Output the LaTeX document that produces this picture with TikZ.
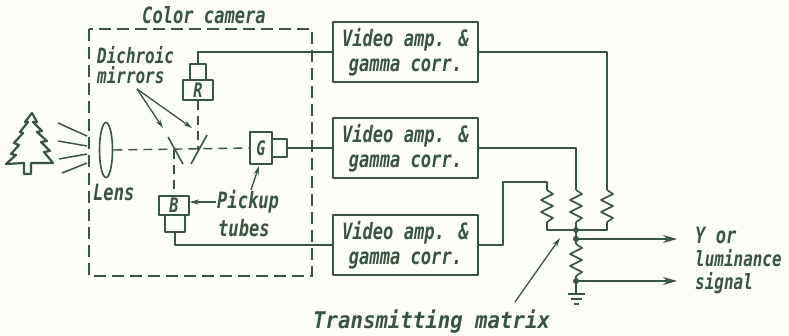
\documentclass[tikz,border=0pt]{standalone}
\usepackage{fontspec}
\newfontfamily\lblfont{DejaVu Sans Mono}[FakeStretch=0.76]
\newfontfamily\lblwide{DejaVu Sans Mono}[FakeStretch=0.9]
\usetikzlibrary{arrows.meta,shapes.geometric}
\definecolor{ink}{RGB}{58,84,66}
\definecolor{paper}{RGB}{252,253,248}
\begin{document}
\begin{tikzpicture}[x=1pt,y=-1pt,
  wire/.style={draw=ink, line width=1.6pt, line join=round},
  camdash/.style={draw=ink, line width=1.4pt, dash pattern=on 12pt off 6pt},
  axisdash/.style={draw=ink, line width=1.4pt, dash pattern=on 9pt off 6pt},
  lbl/.style={text=ink, inner sep=0pt, font=\lblfont\bfseries\itshape\fontsize{22.5}{25}\selectfont},
  ampbox/.style={wire, minimum width=145pt, minimum height=60pt, align=center, inner sep=0pt,
    text=ink, font=\lblfont\bfseries\itshape\fontsize{22.5}{25}\selectfont},
  tube/.style={wire, inner sep=0pt, text=ink, font=\lblfont\bfseries\itshape\fontsize{20}{20}\selectfont},
  ptr/.style={draw=ink, line width=1.3pt, -{Stealth[length=9pt,width=5pt]}},
  outarrow/.style={wire, -{Stealth[length=14pt,width=8pt]}},
  jdot/.style={circle, fill=ink, inner sep=0pt, minimum size=6pt},
  resistor/.pic={\draw[wire] (0,0) -- (6,4) -- (-6,10) -- (6,16) -- (-6,22) -- (6,28) -- (0,32);},
]
% sheet
\fill[paper] (0,0) rectangle (789,335);
\useasboundingbox (0,0) rectangle (789,335);

% camera housing
\draw[camdash] (89,29) rectangle (312,276);
\node[lbl] (camlbl) at (204,15) {Color camera};

% scene: tree and light rays
\draw[wire, line width=2.2pt] (32,113) -- (37,122) -- (33,122) -- (42,131) -- (37,132) -- (47,141)
  -- (41,142) -- (50,151) -- (44,152) -- (53,163) -- (31,163) -- (31,174) -- (24,174) -- (24,163)
  -- (6,164) -- (16,155) -- (11,154) -- (19,145) -- (14,143) -- (23,133) -- (20,132) -- (28,122)
  -- (25,122) -- cycle;
\coordinate (ray1a) at (58,123); \coordinate (ray1b) at (87,136);
\coordinate (ray2a) at (58,141); \coordinate (ray2b) at (87,146);
\coordinate (ray3a) at (59,159); \coordinate (ray3b) at (87,154);
\coordinate (ray4a) at (62,173); \coordinate (ray4b) at (87,163);
\draw[wire, line width=1.5pt] (ray1a) -- (ray1b) (ray2a) -- (ray2b) (ray3a) -- (ray3b) (ray4a) -- (ray4b);

% lens
\node[draw=ink, line width=1.6pt, ellipse, minimum width=13pt, minimum height=55pt, inner sep=0pt] (lens) at (106,150) {};
\node[lbl, anchor=west] (lenslbl) at (93,192) {Lens};

% pickup tubes
\node[tube, minimum width=30pt, minimum height=20pt] (Rb) at (198,90) {R};
\node[tube, minimum width=16pt, minimum height=16pt] (Rn) at (198,72) {};
\node[tube, minimum width=22pt, minimum height=32pt] (Gb) at (261,148) {G};
\node[tube, minimum width=15pt, minimum height=18pt] (Gn) at (279.5,148) {};
\node[tube, minimum width=30pt, minimum height=19pt] (Bb) at (174,205.5) {B};
\node[tube, minimum width=20pt, minimum height=17pt] (Bn) at (175,223.5) {};

% dichroic mirrors and light paths
\coordinate (m1a) at (168,137); \coordinate (m1b) at (183,164);
\coordinate (m2a) at (207,135); \coordinate (m2b) at (191,164);
\coordinate (m1hit) at (174,150);
\coordinate (m2hit) at (198,150);
\draw[axisdash] (lens.east) -- (Gb.west);
\draw[axisdash] (Rb.south) -- (m2hit);
\draw[axisdash] (m1hit) -- (Bb.north);
\draw[wire] (m1a) -- (m1b);
\draw[wire] (m2a) -- (m2b);

% labels with pointers
\node[lbl, anchor=west, align=left, font=\lblfont\bfseries\itshape\fontsize{21}{20}\selectfont] (dmlbl) at (97,65) {Dichroic\\mirrors};
\coordinate (dm) at (137,89);
\draw[ptr] (dm) -- (163,128);
\draw[ptr] (dm) -- (192,128);
\node[lbl, anchor=west] (pulbl) at (217,202) {Pickup};
\node[lbl, anchor=west] (tblbl) at (218,228) {tubes};
\coordinate (puB) at (216,202);
\coordinate (puG) at (251,190);
\draw[ptr] (puB) -- (Bb.east |- puB);
\draw[ptr] (puG) -- (259,166);

% video amplifiers
\node[ampbox] (amp1) at (405.5,52) {Video amp. \&\\gamma corr.};
\node[ampbox] (amp2) at (405.5,148) {Video amp. \&\\gamma corr.};
\node[ampbox] (amp3) at (405.5,245) {Video amp. \&\\gamma corr.};

\draw[wire] (Rn.north) |- (amp1.west);
\draw[wire] (Gn.east) -- (amp2.west);
\draw[wire] (Bn.south) |- (amp3.west);

% transmitting matrix
\coordinate (RaT) at (547,190); \coordinate (RaB) at (547,222);
\coordinate (RbT) at (576,190); \coordinate (RbB) at (576,222);
\coordinate (RcT) at (607,190); \coordinate (RcB) at (607,222);
\coordinate (RdT) at (576,244); \coordinate (RdB) at (576,276);
\pic at (RaT) {resistor};
\pic at (RbT) {resistor};
\pic at (RcT) {resistor};
\pic at (RdT) {resistor};
\coordinate (k1) at (503,182);
\node[jdot] (j1) at (576,230) {};
\node[jdot] (j2) at (576,239) {};
\node[jdot] (j3) at (576,281) {};
\coordinate (gnd) at (576,294);

\draw[wire] (amp1.east) -| (RcT);
\draw[wire] (amp2.east) -| (RbT);
\draw[wire] (amp3.east) -| (k1) -| (RaT);
\draw[wire] (RaB) |- (j1.center) -| (RcB);
\draw[wire] (RbB) -- (j1.center) -- (j2.center) -- (RdT);
\draw[wire] (RdB) -- (j3.center) -- (gnd);
\draw[wire] (567.5,294) -- (584.5,294);
\draw[wire] (570.5,299) -- (581.5,299);
\draw[wire] (573.5,304) -- (578.5,304);

% outputs
\coordinate (outY) at (677,239);
\coordinate (outS) at (677,281);
\draw[outarrow] (j2.center) -- (outY);
\draw[outarrow] (j3.center) -- (outS);
\node[lbl, anchor=west] (ylbl) at (695,235) {Y or};
\node[lbl, anchor=west, font=\lblfont\bfseries\itshape\fontsize{21}{21}\selectfont] (lumlbl) at (695,258) {luminance};
\node[lbl, anchor=west, font=\lblfont\bfseries\itshape\fontsize{21}{21}\selectfont] (siglbl) at (695,283) {signal};

\node[lbl, anchor=west, font=\lblwide\bfseries\itshape\fontsize{23}{23}\selectfont] (tmlbl) at (313,322) {Transmitting matrix};
\coordinate (tmp) at (515,302);
\draw[ptr] (tmp) -- (560,238);
\end{tikzpicture}
\end{document}
